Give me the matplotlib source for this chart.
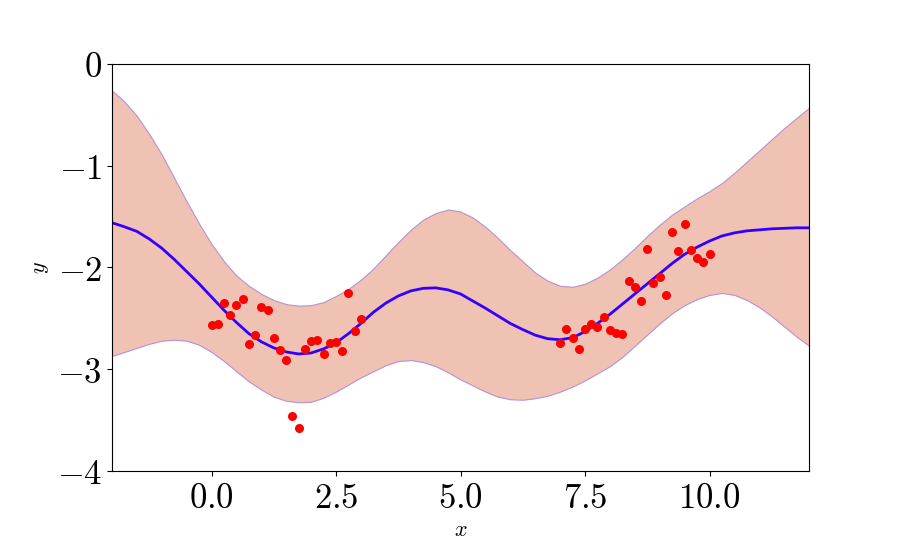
import numpy as np
import matplotlib
matplotlib.use("Agg")
import matplotlib.pyplot as plt

plt.rcParams["mathtext.fontset"] = "cm"

# Observations (two clusters)
x_obs_left = np.linspace(0, 3, 25)
y_obs_left = [-2.57, -2.56, -2.35, -2.47, -2.37, -2.31, -2.75, -2.66, -2.39,
              -2.42, -2.69, -2.81, -2.91, -3.46, -3.58, -2.80, -2.72, -2.71,
              -2.85, -2.74, -2.73, -2.82, -2.25, -2.62, -2.51]
x_obs_right = np.linspace(7, 10, 25)
y_obs_right = [-2.74, -2.60, -2.69, -2.80, -2.60, -2.56, -2.58, -2.49, -2.61,
               -2.64, -2.65, -2.13, -2.19, -2.33, -1.82, -2.15, -2.09, -2.27,
               -1.65, -1.84, -1.57, -1.83, -1.91, -1.95, -1.87]

# Predictive mean and band, every 0.25
x_grid = np.arange(-2.0, 12.01, 0.25)
y_mean = [-1.56, -1.60, -1.645, -1.72, -1.81, -1.92, -2.04, -2.16,
          -2.29, -2.42, -2.54, -2.65, -2.73, -2.79, -2.83, -2.85,
          -2.84, -2.80, -2.74, -2.65, -2.55, -2.44, -2.35, -2.28,
          -2.23, -2.205, -2.20, -2.22, -2.26, -2.33, -2.40, -2.475,
          -2.55, -2.61, -2.665, -2.70, -2.71, -2.69, -2.63, -2.55,
          -2.46, -2.36, -2.26, -2.16, -2.06, -1.96, -1.87, -1.80,
          -1.74, -1.69, -1.66, -1.64, -1.63, -1.62, -1.615, -1.61, -1.61]
y_upper = [-0.26, -0.37, -0.51, -0.69, -0.89, -1.12, -1.35, -1.57,
           -1.77, -1.94, -2.08, -2.18, -2.26, -2.32, -2.36, -2.375,
           -2.37, -2.34, -2.28, -2.21, -2.12, -2.01, -1.88, -1.75,
           -1.63, -1.53, -1.465, -1.43, -1.45, -1.51, -1.60, -1.71,
           -1.83, -1.94, -2.05, -2.13, -2.18, -2.19, -2.16, -2.10,
           -2.02, -1.92, -1.81, -1.69, -1.58, -1.48, -1.40, -1.32,
           -1.25, -1.17, -1.07, -0.96, -0.85, -0.74, -0.63, -0.53, -0.43]
y_lower = [-2.87, -2.83, -2.79, -2.75, -2.72, -2.71, -2.72, -2.76,
           -2.83, -2.92, -3.02, -3.12, -3.20, -3.27, -3.31, -3.325,
           -3.32, -3.28, -3.22, -3.15, -3.08, -3.02, -2.96, -2.92,
           -2.91, -2.93, -2.97, -3.03, -3.10, -3.16, -3.22, -3.27,
           -3.295, -3.30, -3.285, -3.26, -3.22, -3.17, -3.11, -3.04,
           -2.97, -2.88, -2.77, -2.66, -2.55, -2.45, -2.37, -2.31,
           -2.27, -2.25, -2.27, -2.32, -2.39, -2.48, -2.58, -2.68, -2.77]

xticks = [0.0, 2.5, 5.0, 7.5, 10.0]
yticks = [0, -1, -2, -3, -4]

fig = plt.figure(figsize=(9, 5.4), dpi=100)
ax = fig.add_axes([0.1244, 0.1278, 0.7746, 0.7537])

ax.fill_between(x_grid, y_lower, y_upper, facecolor="#efc2b4",
                edgecolor="#b890d0", linewidth=0.8)
ax.plot(x_grid, y_mean, color="#3300ff", linewidth=2)
ax.scatter(x_obs_left, y_obs_left, color="red", s=30, zorder=3)
ax.scatter(x_obs_right, y_obs_right, color="red", s=30, zorder=3)

ax.set_xlim(-2, 12)
ax.set_ylim(-4, 0)
ax.set_xticks(xticks)
ax.set_xticklabels(["$%.1f$" % t for t in xticks], fontsize=25)
ax.set_yticks(yticks)
ax.set_yticklabels(["$%d$" % t for t in yticks], fontsize=25)
ax.set_xlabel("$x$", fontsize=16)
ax.set_ylabel("$y$", fontsize=16)

plt.savefig("out.png", dpi=100)
